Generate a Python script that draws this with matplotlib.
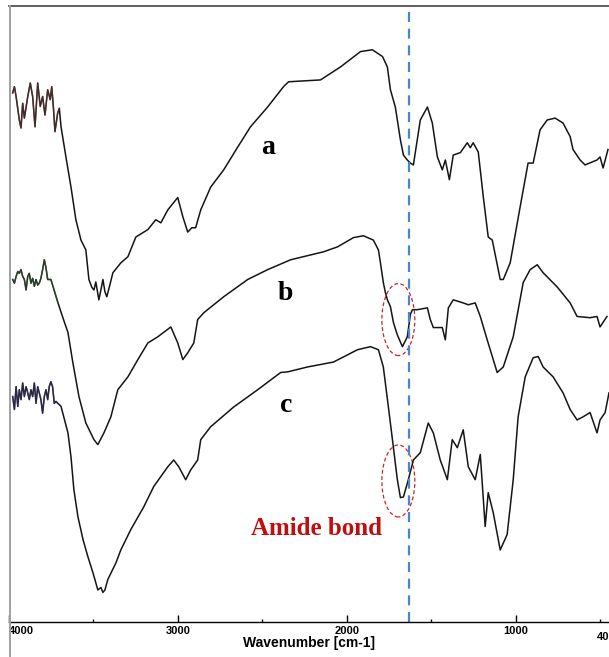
import matplotlib.pyplot as plt
from matplotlib.lines import Line2D
from matplotlib.patches import Ellipse
import numpy as np

# FTIR spectra, wavenumber (cm-1) vs transmittance (a.u.)
wn_a = [3978, 3968, 3958, 3939, 3929, 3919, 3909, 3889, 3874, 3860, 3846, 3830, 3815, 3801, 3787,
        3771, 3756, 3747, 3736, 3728, 3712, 3702, 3692, 3663, 3633, 3604, 3574, 3545, 3527, 3509,
        3497, 3486, 3468, 3456, 3444, 3432, 3421, 3403, 3385, 3338, 3296, 3249, 3178, 3131, 3101,
        3060, 3013, 3001, 2971, 2942, 2918, 2895, 2865, 2806, 2729, 2646, 2570, 2469, 2375, 2345,
        2156, 2038, 1919, 1849, 1789, 1760, 1742, 1713, 1683, 1665, 1642, 1624, 1606, 1565, 1523,
        1494, 1464, 1435, 1417, 1393, 1370, 1328, 1287, 1269, 1252, 1222, 1192, 1163, 1139, 1092,
        1074, 1033, 974, 927, 897, 856, 814, 767, 720, 678, 661, 619, 590, 519, 501, 483, 454]
t_a = [85.9, 86.9, 85.3, 81.5, 80.2, 84.2, 81.8, 85.3, 87.5, 85.3, 80.4, 87.5, 83.7, 85.3, 82.3,
       86.4, 84.8, 86.9, 83.1, 79.6, 82.6, 83.4, 80.4, 75.5, 70.6, 65.3, 62.0, 60.4, 55.6, 54.3,
       53.9, 55.2, 52.3, 53.9, 55.6, 53.6, 52.8, 54.7, 56.7, 58.3, 59.3, 62.5, 63.7, 65.3, 64.8,
       66.9, 68.5, 68.9, 65.8, 63.3, 64.0, 64.0, 66.9, 70.6, 73.4, 77.1, 80.4, 83.6, 86.9, 87.7,
       88.0, 90.1, 92.6, 92.9, 91.8, 90.1, 86.4, 83.6, 78.3, 75.8, 75.0, 74.5, 74.2, 81.5, 83.6,
       81.0, 75.5, 73.4, 75.0, 71.8, 75.8, 76.2, 77.8, 77.0, 77.8, 76.3, 69.0, 62.5, 62.0, 55.6,
       55.6, 58.3, 67.4, 74.5, 74.5, 79.9, 81.5, 81.8, 81.0, 78.8, 76.7, 75.0, 74.2, 75.0, 75.5, 73.7, 76.7]

wn_b = [3978, 3968, 3958, 3948, 3939, 3929, 3919, 3909, 3899, 3889, 3880, 3870, 3860, 3850, 3840,
        3830, 3821, 3811, 3801, 3791, 3781, 3771, 3752, 3710, 3681, 3651, 3622, 3586, 3545, 3497,
        3474, 3438, 3397, 3356, 3296, 3237, 3178, 3119, 3042, 3001, 2971, 2942, 2906, 2883, 2847,
        2729, 2587, 2469, 2333, 2138, 2055, 1961, 1902, 1843, 1813, 1801, 1784, 1772, 1760, 1742,
        1724, 1701, 1671, 1642, 1624, 1612, 1583, 1523, 1506, 1488, 1435, 1417, 1399, 1370, 1311,
        1281, 1240, 1210, 1169, 1110, 1074, 1015, 956, 915, 873, 838, 755, 678, 637, 560, 519, 501, 460]
t_b = [55.6, 55.0, 56.1, 56.9, 56.6, 57.2, 56.1, 55.6, 53.9, 56.1, 56.6, 55.0, 55.8, 54.5, 55.6,
       54.7, 55.0, 55.8, 57.2, 58.8, 57.5, 55.6, 55.6, 51.8, 49.4, 47.0, 42.1, 36.6, 32.3, 29.6,
       28.8, 30.7, 33.3, 37.7, 39.8, 42.6, 45.3, 46.3, 47.9, 45.3, 42.6, 43.7, 45.3, 49.1, 50.2,
       52.8, 55.6, 57.2, 58.8, 60.1, 60.9, 62.4, 62.7, 62.0, 60.4, 58.3, 55.1, 53.5, 52.3, 51.2,
       48.6, 46.6, 44.7, 46.3, 49.9, 50.7, 50.7, 51.0, 49.1, 47.8, 47.8, 45.8, 51.0, 52.3, 51.8,
       51.5, 51.8, 49.6, 45.8, 40.5, 41.4, 46.3, 55.1, 57.2, 58.0, 56.7, 54.4, 51.8, 49.6, 49.4, 49.6, 47.9, 49.6]

wn_c = [3978, 3968, 3958, 3948, 3939, 3929, 3919, 3909, 3899, 3889, 3880, 3870, 3860, 3850, 3840,
        3830, 3821, 3811, 3801, 3791, 3781, 3771, 3762, 3752, 3742, 3732, 3722, 3692, 3651, 3633,
        3616, 3592, 3562, 3533, 3503, 3474, 3456, 3444, 3432, 3415, 3367, 3338, 3279, 3202, 3143,
        3060, 3025, 2995, 2954, 2924, 2883, 2865, 2806, 2670, 2528, 2392, 2351, 2233, 2079, 1937,
        1860, 1813, 1784, 1754, 1730, 1701, 1683, 1665, 1636, 1606, 1565, 1518, 1488, 1447, 1405,
        1376, 1346, 1311, 1281, 1240, 1210, 1181, 1163, 1133, 1092, 1051, 1015, 986, 944, 897,
        867, 838, 779, 720, 678, 637, 602, 560, 519, 501, 471, 448]
t_c = [36.6, 34.5, 38.2, 35.0, 37.7, 36.1, 38.8, 36.6, 38.2, 37.2, 36.1, 37.7, 36.6, 38.8, 35.5,
       38.2, 37.2, 36.1, 33.9, 36.6, 37.7, 36.1, 38.2, 39.0, 38.2, 35.5, 35.8, 35.0, 30.7, 26.8,
       21.5, 17.1, 13.4, 10.6, 8.0, 5.2, 5.6, 4.8, 5.2, 6.9, 9.6, 11.7, 15.0, 18.7, 22.0,
       25.2, 26.3, 25.2, 23.1, 24.7, 26.3, 29.6, 31.7, 34.9, 37.7, 40.5, 40.6, 41.4, 42.2, 44.2,
       44.7, 44.2, 41.4, 34.9, 29.6, 23.1, 20.2, 20.3, 23.1, 26.3, 27.5, 32.3, 30.7, 26.3, 23.1,
       29.6, 28.3, 31.2, 25.2, 23.1, 27.2, 15.5, 21.0, 17.7, 11.7, 14.2, 23.1, 33.3, 39.8, 42.9,
       43.1, 41.4, 39.8, 37.2, 34.5, 32.8, 33.3, 34.0, 30.7, 32.8, 34.0, 37.2]

amide_wn = 1633

plt.rcParams['font.family'] = ['Liberation Sans', 'DejaVu Sans']

fig = plt.figure(figsize=(6.09, 6.57), dpi=100)
ax = fig.add_axes([9 / 609, 35 / 657, 600 / 609, 616 / 657])

# noisy high-wavenumber ends carry a slight tint from the instrument export
tints = ['#6a3838', '#385a38', '#38386a']
for wn, t, tint in [(wn_a, t_a, tints[0]), (wn_b, t_b, tints[1]), (wn_c, t_c, tints[2])]:
    wn = np.array(wn)
    t = np.array(t)
    ax.plot(wn, t, color='#151515', lw=1.1, solid_joinstyle='round')
    m = wn >= 3700
    ax.plot(wn[m], t[m], color=tint, lw=1.0, alpha=0.6)

ax.axvline(amide_wn, color='#4a86d0', lw=1.6, dashes=(4.5, 3))

for yc in (49.1, 22.9):
    ax.add_patch(Ellipse((1695, yc), 195, 11.7, fill=False, ec='#d42020',
                         lw=0.9, ls=(0, (3, 2))))

serif = dict(family='Liberation Serif', weight='bold', ha='center', va='center')
ax.text(2469, 77.1, 'a', fontsize=20, color='black', **serif)
ax.text(2363, 53.4, 'b', fontsize=20, color='black', **serif)
ax.text(2357, 35.2, 'c', fontsize=20, color='black', **serif)
ax.text(2180, 15.1, 'Amide bond', fontsize=18, color='#c00d0d', **serif)

ax.set_xlim(4000, 448)
ax.set_ylim(0, 100)
ax.set_yticks([])
ax.set_xticks([4000, 3000, 2000, 1000])
ax.set_xticklabels(['4000', '3000', '2000', '1000'], fontsize=8, fontweight='bold')
ax.get_xticklabels()[0].set_ha('left')
ax.set_xticks([3500, 2500, 1500, 500], minor=True)
ax.tick_params(axis='x', which='major', direction='in', length=5, width=1, pad=3)
ax.tick_params(axis='x', which='minor', direction='in', length=2, width=1)
# the 400 label runs off the right edge of the frame
ax.text(519, -1.6, '400', fontsize=8, fontweight='bold', ha='left', va='top')
ax.set_xlabel('Wavenumber [cm-1]', fontsize=10, fontweight='bold', labelpad=0)

ax.spines['right'].set_visible(False)
ax.spines['left'].set_visible(False)
ax.spines['top'].set_color('#444444')
ax.spines['top'].set_linewidth(1.2)
ax.spines['bottom'].set_linewidth(1.0)

# grey frame edge on the left runs the full height
fig.add_artist(Line2D([9.5 / 609, 9.5 / 609], [0, 651 / 657], color='#a0a0a0', lw=1.4))

fig.savefig('out.png', dpi=100)
